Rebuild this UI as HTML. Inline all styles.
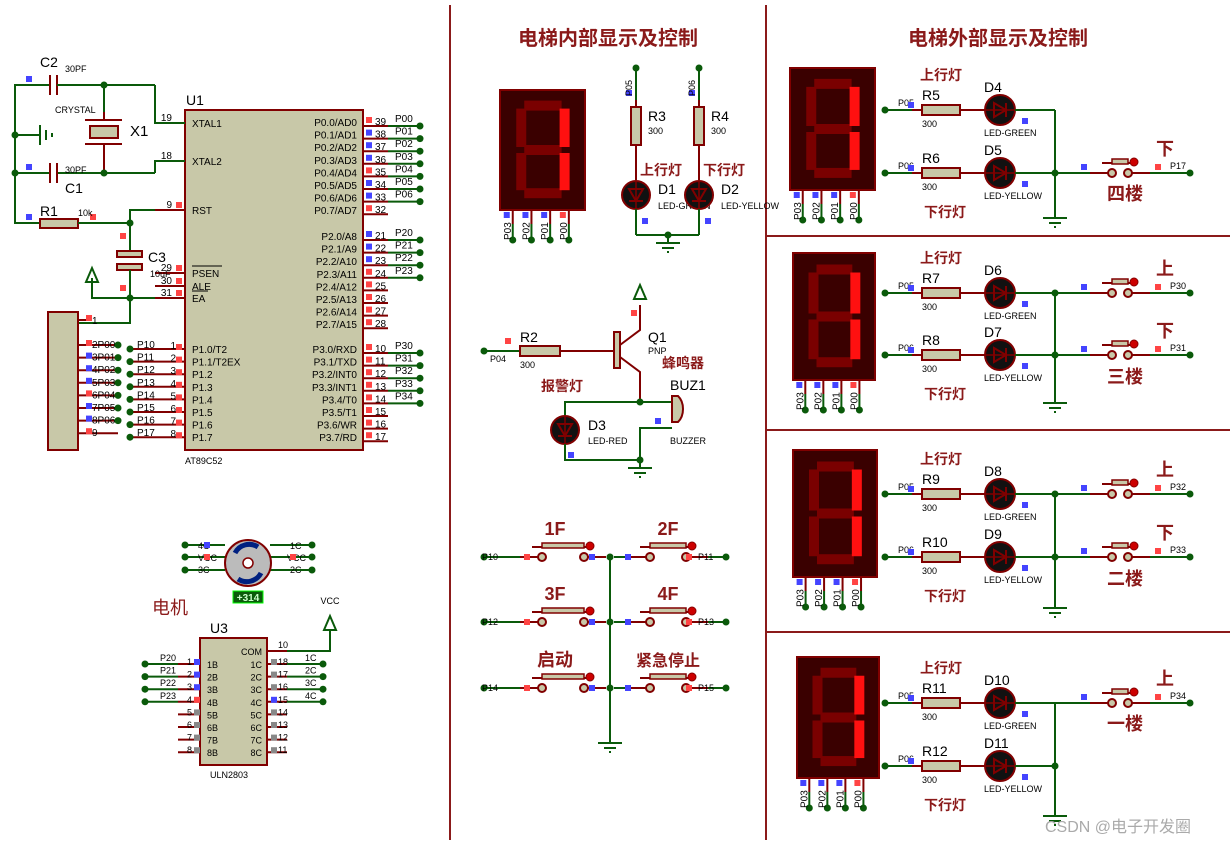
<!DOCTYPE html>
<html><head><meta charset="utf-8"><style>
html,body{margin:0;padding:0;background:#fff;width:1230px;height:845px;overflow:hidden}
svg text{font-family:"Liberation Sans","Noto Sans CJK SC",sans-serif}
</style></head><body>
<svg id="s" width="1230" height="845" viewBox="0 0 1230 845" xmlns="http://www.w3.org/2000/svg"></svg>
<script>
const S=document.getElementById('s');let o='';
const G='#0a5a0a',M='#800000',F='#c8c8a8',T='#8b1a1a';
function L(x1,y1,x2,y2,c=G,w=2){o+=`<line x1="${x1}" y1="${y1}" x2="${x2}" y2="${y2}" stroke="${c}" stroke-width="${w}"/>`}
function P(pts,c=G,w=2){o+=`<polyline points="${pts}" fill="none" stroke="${c}" stroke-width="${w}"/>`}
function D(x,y,r=3.5){o+=`<circle cx="${x}" cy="${y}" r="${r}" fill="${G}"/>`}
function R(x,y,w,h,f=F,s=M,sw=2){o+=`<rect x="${x}" y="${y}" width="${w}" height="${h}" fill="${f}" stroke="${s}" stroke-width="${sw}"/>`}
function Tx(x,y,t,sz=11,c='#000',a='start',extra=''){o+=`<text x="${x}" y="${y}" font-size="${sz}" fill="${c}" text-anchor="${a}" ${extra}>${t}</text>`}
function Sq(x,y,c){o+=`<rect x="${x}" y="${y}" width="6" height="6" fill="${c}"/>`}
const RED='#f44',BLU='#44f',GR='#888';
function gnd(x,y){L(x,y,x,y+8);L(x-12,y+8,x+12,y+8,G,2);L(x-6,y+13,x+6,y+13,G,2);L(x-1,y+17,x+1,y+17,G,2)}
function arrowUp(x,y){o+=`<polygon points="${x},${y} ${x-6},${y+14} ${x+6},${y+14}" fill="none" stroke="${G}" stroke-width="2"/>`}
function led(x,y,r=15,vert=false){o+=`<circle cx="${x}" cy="${y}" r="${r}" fill="#111" stroke="${M}" stroke-width="2"/>`;
 if(!vert){o+=`<polygon points="${x-6},${y-7} ${x-6},${y+7} ${x+6},${y}" fill="none" stroke="${M}" stroke-width="2"/>`;L(x+6,y-7,x+6,y+7,M);L(x-r,y,x+r,y,M,1.5)}
 else{o+=`<polygon points="${x-7},${y-6} ${x+7},${y-6} ${x},${y+6}" fill="none" stroke="${M}" stroke-width="2"/>`;L(x-7,y+6,x+7,y+6,M);L(x,y-r,x,y+r,M,1.5)}}
function seg(x,y,w,h,labels){R(x,y,w,h,'#3a0000',M,2);
 const a=x+w*0.25,b=x+w*0.76,t=y+h*0.13,m=y+h*0.5,bt=y+h*0.86,d='#7a0000',lit='#ff1010',th=10;
 o+=`<rect x="${a+3}" y="${t-th/2}" width="${b-a-6}" height="${th}" fill="${d}"/>`;
 o+=`<rect x="${a+3}" y="${m-th/2}" width="${b-a-6}" height="${th}" fill="${d}"/>`;
 o+=`<rect x="${a+3}" y="${bt-th/2}" width="${b-a-6}" height="${th}" fill="${d}"/>`;
 o+=`<rect x="${a-th/2}" y="${t+3}" width="${th}" height="${m-t-6}" fill="${d}"/>`;
 o+=`<rect x="${a-th/2}" y="${m+3}" width="${th}" height="${bt-m-6}" fill="${d}"/>`;
 o+=`<rect x="${b-th/2}" y="${t+3}" width="${th}" height="${m-t-6}" fill="${lit}"/>`;
 o+=`<rect x="${b-th/2}" y="${m+3}" width="${th}" height="${bt-m-6}" fill="${lit}"/>`;
 const xs=[x+w*0.15,x+w*0.37,x+w*0.59,x+w*0.81];const nm=['P03','P02','P01','P00'];
 xs.forEach((px,i)=>{L(px,y+h,px,y+h+14,M);L(px,y+h+14,px,y+h+30);D(px,y+h+30);Sq(px-9,y+h+2,i==3?RED:BLU);
 o+=`<text font-size="10" transform="translate(${px-2},${y+h+30}) rotate(-90)">${nm[i]}</text>`})}
function sw(x1,y,x2){
 L(x1,y,x1+18,y,M);L(x2-18,y,x2,y,M);
 o+=`<circle cx="${x1+22}" cy="${y}" r="4" fill="${F}" stroke="${M}" stroke-width="2"/><circle cx="${x2-22}" cy="${y}" r="4" fill="${F}" stroke="${M}" stroke-width="2"/>`;
 L(x1+12,y-10,x2-12,y-10,M,2);R(x1+22,y-14,x2-x1-44,5,F,M,1.5);
 o+=`<circle cx="${x2-16}" cy="${y-11}" r="4" fill="#c00" stroke="#800" stroke-width="1"/>`}
L(450,5,450,840,T,2);L(766,5,766,840,T,2);
[236,430,632].forEach(y=>L(766,y,1230,y,T,2));
Tx(608,45,'电梯内部显示及控制',20,T,'middle','font-weight="bold"');
Tx(998,45,'电梯外部显示及控制',20,T,'middle','font-weight="bold"');
R(185,110,178,340);Tx(186,105,'U1',14);Tx(185,464,'AT89C52',9);
const lp=[[123,'XTAL1','19'],[161,'XTAL2','18'],[210,'RST','9'],[273,'PSEN','29'],[286,'ALE','30'],[298,'EA','31']];
lp.forEach(p=>{L(155,p[0],185,p[0],M);Tx(192,p[0]+4,p[1],10);Tx(172,p[0]-2,p[2],10,'#000','end')});
o+=`<line x1="192" y1="266" x2="222" y2="266" stroke="#000"/><line x1="192" y1="291" x2="208" y2="291" stroke="#000"/>`;
for(let i=0;i<8;i++){const y=349+i*12.6;L(130,y,185,y,M);Tx(192,y+4,['P1.0/T2','P1.1/T2EX','P1.2','P1.3','P1.4','P1.5','P1.6','P1.7'][i],10);Tx(176,y,''+(i+1),10,'#000','end');Sq(176,y-5,RED);Tx(137,y-1,'P1'+i,10);D(130,y);}
const right=[['P0.0/AD0','P0.1/AD1','P0.2/AD2','P0.3/AD3','P0.4/AD4','P0.5/AD5','P0.6/AD6','P0.7/AD7'],['P2.0/A8','P2.1/A9','P2.2/A10','P2.3/A11','P2.4/A12','P2.5/A13','P2.6/A14','P2.7/A15'],['P3.0/RXD','P3.1/TXD','P3.2/INT0','P3.3/INT1','P3.4/T0','P3.5/T1','P3.6/WR','P3.7/RD']];
const starts=[122,236,349],nums=[[39,38,37,36,35,34,33,32],[21,22,23,24,25,26,27,28],[10,11,12,13,14,15,16,17]];
const nets=[['P00','P01','P02','P03','P04','P05','P06'],['P20','P21','P22','P23'],['P30','P31','P32','P33','P34']];
for(let g=0;g<3;g++)for(let i=0;i<8;i++){const y=starts[g]+i*12.6;Tx(357,y+4,right[g][i],10,'#000','end');L(363,y+4,388,y+4,M);Sq(366,y-5,(g==0&&i>0&&i<7&&i!=4)||(g==1&&i<3)?BLU:RED);Tx(375,y+3,nums[g][i],10);
 if(i<nets[g].length){L(388,y+4,420,y+4);D(420,y+4);Tx(395,y,nets[g][i],10)}}
P('50,85 15,85 15,223 40,223');L(15,135,40,135);L(15,173,50,173);
L(50,75,50,95,M,2);L(57,75,57,95,M,2);L(57,85,155,85);P('104,85 104,112');D(104,85);D(15,135);D(15,173);
P('155,85 155,123 185,123');L(104,112,104,120,M);L(85,120,122,120,M);R(90,126,28,12);L(85,144,122,144,M);L(104,144,104,173,M);D(104,173);
L(57,173,155,173);L(50,163,50,183,M,2);L(57,163,57,183,M,2);P('155,173 155,161 185,161');
L(40,125,40,145,G,2);L(46,130,46,140,G,2);L(52,133,52,137,G,2);
Tx(40,67,'C2',14);Tx(65,72,'30PF',9);Tx(55,113,'CRYSTAL',9);Tx(130,136,'X1',15);Tx(65,173,'30PF',9);Tx(65,193,'C1',14);
Sq(26,76,BLU);Sq(26,164,BLU);Sq(26,214,BLU);Sq(90,214,RED);
R(40,219,38,9);Tx(40,216,'R1',14);Tx(78,216,'10k',9);L(78,223,130,223);D(130,223);P('130,223 130,210 155,210');Sq(176,202,RED);
L(130,223,130,251);R(117,251,25,6,F,M);R(117,264,25,6,F,M);L(130,270,130,298);Tx(148,262,'C3',14);Tx(150,277,'10uF',9);Sq(120,233,RED);Sq(120,285,RED);
D(130,298);P('130,298 92,298 92,278');arrowUp(92,268);L(130,298,155,298);Sq(176,265,RED);Sq(176,278,RED);Sq(176,290,RED);
P('130,298 130,323 78,323');
R(48,312,30,138);L(78,320,90,320,M);Sq(86,315,RED);Tx(92,324,'1',10);
for(let i=0;i<8;i++){const y=345+i*12.6;L(78,y,118,y,M);Sq(86,y-5,[RED,BLU,BLU,BLU,RED,BLU,BLU,RED][i]);Tx(92,y+3,(i+2)+(i<7?'P0'+i:''),10);if(i<7)D(118,y)}
[545,557,570].forEach(y=>{L(185,y,225,y);L(270,y,312,y);D(185,y);D(312,y)});
o+=`<circle cx="248" cy="563" r="23" fill="#bbb" stroke="${M}" stroke-width="2"/><path d="M235,553 A16,16 0 0 1 258,547" stroke="#002080" stroke-width="5" fill="none"/><path d="M261,573 A16,16 0 0 1 238,579" stroke="#002080" stroke-width="5" fill="none"/><circle cx="248" cy="563" r="5" fill="#fff" stroke="${M}" stroke-width="1.5"/>`;
Tx(198,549,'4C',9);Tx(198,561,'VCC',9);Tx(198,573,'3C',9);Tx(290,549,'1C',9);Tx(287,561,'VCC',9);Tx(290,573,'2C',9);Sq(204,542,BLU);Sq(204,554,RED);Sq(290,554,RED);
R(233,591,30,12,'#0a5a0a','#0f0',1);Tx(248,601,'+314',10,'#cfc','middle','font-weight="bold"');
Tx(152,614,'电机',18,T);Tx(330,604,'VCC',9,'#000','middle');arrowUp(330,616);P('330,630 330,651 287,651');
R(200,638,67,127);Tx(210,633,'U3',14);Tx(210,778,'ULN2803',9);Tx(262,655,'COM',9,'#000','end');L(267,651,287,651,M);Tx(278,648,'10',9);
for(let i=0;i<8;i++){const y=664+i*12.6;L(178,y,200,y,M);L(267,y,287,y,M);Tx(207,y+4,(i+1)+'B',9);Tx(262,y+4,(i+1)+'C',9,'#000','end');Tx(192,y+1,''+(i+1),9,'#000','end');Tx(278,y+1,''+(18-i),9);Sq(194,y-5,i<3?BLU:i==3?RED:GR);Sq(271,y-5,i==3?BLU:GR);
 if(i<4){L(145,y,178,y);D(145,y);Tx(160,y-3,'P2'+i,9);L(287,y,323,y);D(323,y);Tx(305,y-3,(i+1)+'C',9)}}
seg(500,90,85,120);
[[636,'R3','P05','上行灯','D1','LED-GREEN'],[699,'R4','P06','下行灯','D2','LED-YELLOW']].forEach((r,k)=>{const x=r[0];D(x,68);L(x,68,x,100);R(x-5,107,10,38);L(x,100,x,107,M);L(x,145,x,180,M);led(x,195,14,true);L(x,209,x,235);Tx(x+12,121,r[1],14);Tx(x+12,134,'300',9);Sq(x-10,90,BLU);Sq(x+6,218,BLU);
 o+=`<text font-size="9" transform="translate(${x-4},96) rotate(-90)">${r[2]}</text>`;Tx(x+4,175,r[3],14,T,'start','font-weight="bold"');Tx(x+22,194,r[4],14);Tx(x+22,209,r[5],9)});
L(636,235,699,235);D(668,235);gnd(668,235);
D(484,351);L(484,351,520,351);R(520,346,40,10);L(560,351,614,351,M);R(614,332,6,36);Tx(520,342,'R2',14);Tx(520,368,'300',9);Tx(490,362,'P04',9);Sq(505,338,RED);
P('620,345 640,330 640,305',M);arrowUp(640,285);P('620,357 640,372 640,402',M);Sq(631,310,RED);Tx(648,342,'Q1',14);Tx(648,354,'PNP',9);Tx(662,368,'蜂鸣器',14,T,'start','font-weight="bold"');
D(640,402);P('565,415 565,402 672,402');led(565,430,14,true);P('565,444 565,460 640,460');D(640,460);P('640,460 640,428 672,428');gnd(640,460);
o+=`<path d="M672,396 L678,396 A12,16 0 0 1 678,422 L672,422 Z" fill="${F}" stroke="${M}" stroke-width="2"/>`;Tx(670,390,'BUZ1',14);Tx(670,444,'BUZZER',9);Tx(588,430,'D3',14);Tx(588,444,'LED-RED',9);Tx(541,391,'报警灯',14,T,'start','font-weight="bold"');Sq(568,452,BLU);Sq(655,418,BLU);
L(610,557,610,735);gnd(610,735);
[[557,'1F','2F','P10','P11'],[622,'3F','4F','P12','P13'],[688,'启动','紧急停止','P14','P15']].forEach(r=>{const y=r[0];D(484,y);L(484,y,520,y);sw(520,y,606);D(610,y);L(614,y,628,y);sw(628,y,708);L(708,y,726,y);D(726,y);
 Tx(555,y-22,r[1],r[1].length>2?14:18,T,'middle','font-weight="bold"');Tx(668,y-22,r[2],r[2].length>2?16:18,T,'middle','font-weight="bold"');Tx(482,y+3,r[3],9);Tx(698,y+3,r[4],9);Sq(524,y-3,RED);Sq(589,y-3,BLU);Sq(625,y-3,BLU);Sq(686,y-3,RED)});
const secs=[[790,68,85,122,110,173,'四楼',200,[[173,'下','P17']],'D4','D5','R5','R6',210],
[793,253,82,127,293,355,'三楼',383,[[293,'上','P30'],[355,'下','P31']],'D6','D7','R7','R8',395],
[793,450,84,127,494,557,'二楼',585,[[494,'上','P32'],[557,'下','P33']],'D8','D9','R9','R10',600],
[797,657,82,121,703,766,'一楼',730,[[703,'上','P34']],'D10','D11','R11','R12',808]];
secs.forEach(s=>{seg(s[0],s[1],s[2],s[3]);const r1=s[4],r2=s[5];
 [[r1,s[9],s[11],'LED-GREEN','P05'],[r2,s[10],s[12],'LED-YELLOW','P06']].forEach(q=>{const y=q[0];D(885,y);L(885,y,912,y);L(912,y,922,y,M);R(922,y-5,38,10);L(960,y,985,y,M);led(1000,y,15);L(1015,y,1055,y);
  Tx(922,y-10,q[2],14);Tx(922,y+17,'300',9);Tx(984,y-18,q[1],14);Tx(984,y+26,q[3],9);Tx(898,y-4,q[4],9);Sq(908,y-8,BLU);Sq(1022,y+8,BLU)});
 Tx(920,r1-30,'上行灯',14,T,'start','font-weight="bold"');Tx(924,r2+44,'下行灯',14,T,'start','font-weight="bold"');
 L(1055,r1,1055,s[13]);D(1055,r2);if(s[8].length==2)D(1055,r1);gnd(1055,s[13]);
 s[8].forEach(w=>{const y=w[0];L(1055,y,1090,y);sw(1090,y,1150);L(1150,y,1190,y);D(1190,y);Tx(1165,y-18,w[1],18,T,'middle','font-weight="bold"');Tx(1170,y-4,w[2],9);Sq(1081,y-9,BLU);Sq(1155,y-9,RED)});
 Tx(1125,s[7],s[6],18,T,'middle','font-weight="bold"')});
Tx(1045,832,'CSDN @电子开发圈',16,'#aaa');
S.innerHTML=o;
</script>
</body></html>
